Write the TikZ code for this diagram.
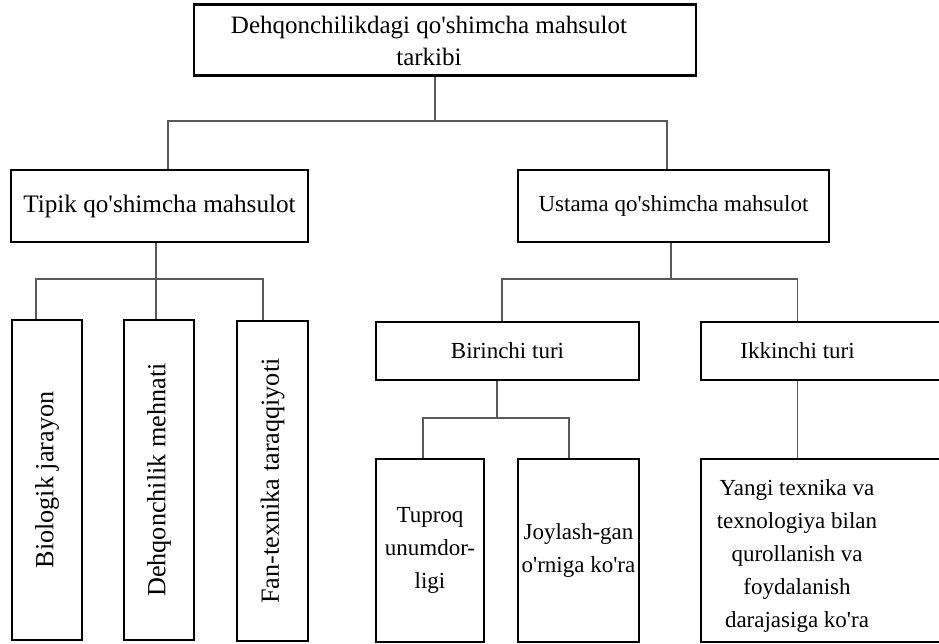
\documentclass[tikz,border=0pt]{standalone}
\usepackage{fontspec}
\setmainfont{Liberation Serif}[Ligatures=TeXOff]
\usetikzlibrary{positioning}
\tikzset{box/.style={draw=black,line width=2.8pt,inner sep=0pt,align=center,font=\fontsize{23}{33}\selectfont},bigbox/.style={box,font=\fontsize{25.2}{32}\selectfont},vbox/.style={box,rotate=90,minimum width=320pt,font=\fontsize{26.2}{32}\selectfont},txt/.style={inner sep=0pt,align=center,font=\fontsize{23}{33}\selectfont},con/.style={draw=black!65,line width=1.3pt}}

\begin{document}
\begin{tikzpicture}[x=1pt,y=-1pt]
\useasboundingbox (0,0) rectangle (939,643);
\node[box,minimum width=502pt,minimum height=71pt] (top) at (445,40) {};\node[txt,font=\fontsize{25}{32}\selectfont] (toptxt) at (429,40.5) {Dehqonchilikdagi qo'shimcha mahsulot\\tarkibi};
\node[bigbox,minimum width=297pt,minimum height=72pt] (tipik) at (159.5,206) {Tipik qo'shimcha mahsulot};\node[box,minimum width=311pt,minimum height=72pt] (ustama) at (673.5,206) {Ustama qo'shimcha mahsulot};
\node[vbox,minimum height=70pt] (bio) at (47,480) {Biologik jarayon};\node[vbox,minimum height=70pt] (dehq) at (159,480) {Dehqonchilik mehnati};\node[vbox,minimum height=71pt] (fan) at (272.5,481) {Fan-texnika taraqqiyoti};
\node[box,minimum width=263pt,minimum height=58pt] (bir) at (507.5,351) {Birinchi turi};\node[box,minimum width=244pt,minimum height=58pt] (ikk) at (823,351) {};\node[txt] (ikktxt) at (797.5,351) {Ikkinchi turi};
\node[box,minimum width=108pt,minimum height=183pt] (tup) at (430,550.5) {Tuproq\\unumdor-\\ligi};\node[box,minimum width=121pt,minimum height=183pt] (joy) at (578.5,550.5) {Joylash-gan\\o'rniga ko'ra};
\node[box,minimum width=244pt,minimum height=183pt] (yan) at (823,550.5) {};\node[txt] (yantxt) at (797,555.5) {Yangi texnika va\\texnologiya bilan\\qurollanish va\\foydalanish\\darajasiga ko'ra};
\coordinate (jt) at (435,121);\coordinate (jl) at (156,279);\coordinate (jr) at (671,279);\coordinate (jb) at (497,418);
\draw[con] (top.south -| jt) -- (jt);\draw[con] ([xshift=8.5pt]tipik.north) |- (jt) -| ([xshift=-6.5pt]ustama.north);
\draw[con] (tipik.south -| jl) -- (jl);\draw[con] ([xshift=-11pt]bio.east) |- (jl) -| ([xshift=-9.5pt]fan.east);\draw[con] (jl) -- (dehq.east -| jl);
\draw[con] (ustama.south -| jr) -- (jr);\draw[con] ([xshift=-5.5pt]bir.north) |- (jr) -| (ikk.north -| ikktxt);
\draw[con] (bir.south -| jb) -- (jb);\draw[con] ([xshift=-7pt]tup.north) |- (jb) -| ([xshift=-9.5pt]joy.north);\draw[con] (ikk.south -| ikktxt) -- (yan.north -| ikktxt);
\end{tikzpicture}
\end{document}
